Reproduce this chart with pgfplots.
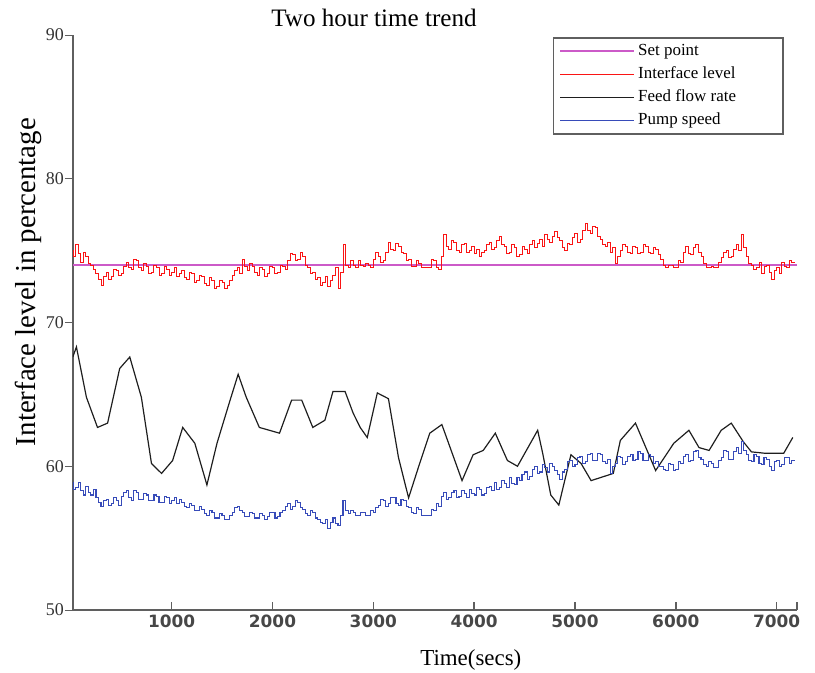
\documentclass[border=0pt]{standalone}
\usepackage{fontspec}
\setmainfont{Liberation Serif}
\setsansfont{DejaVu Sans}
\usepackage{pgfplots}
\pgfplotsset{compat=1.18}
\usetikzlibrary{calc}
\definecolor{setpt}{RGB}{204,90,200}
\definecolor{ifred}{RGB}{250,20,20}
\definecolor{feedblk}{RGB}{30,30,30}
\definecolor{pumpblue}{RGB}{55,75,185}
\definecolor{axgray}{RGB}{95,95,95}
\newcommand{\lent}[1]{\makebox[68bp][l]{#1}}

\begin{document}
\begin{tikzpicture}
\begin{axis}[
  scale only axis,
  width=362bp, height=287.5bp,
  xmin=20, xmax=7200, ymin=50, ymax=90,
  axis x line=bottom, axis y line=left,
  axis line style={axgray, line width=0.8pt, -},
  xtick={1000,2000,3000,4000,5000,6000,7000},
  extra x ticks={7200}, extra x tick labels={},
  ytick={50,60,70,80,90},
  x tick style={axgray, line width=0.7pt},
  y tick style={axgray, line width=0.5pt},
  xtick align=inside, ytick align=outside,
  major tick length=4bp,
  /pgf/number format/1000 sep={},
  /pgf/number format/assume math mode=true,
  x tick label style={font=\sffamily\bfseries\fontsize{8.5}{10}\selectfont, text=black!72, yshift=1bp},
  y tick label style={font=\fontsize{9}{10}\selectfont, text=black!80, xshift=3bp},
  legend style={at={(1,1)}, anchor=north east, xshift=-6.4bp, yshift=-1bp,
    draw=axgray, line width=0.8pt, fill=white,
    font=\fontsize{8.5}{9}\selectfont, inner xsep=3bp, inner ysep=1bp,
    row sep=0pt,
    nodes={inner sep=1.5bp, text height=6.5bp, text depth=2bp}},
  legend cell align=left,
  legend image code/.code={\draw[#1] (0bp,0bp) -- (37bp,0bp);},
]
\addplot[setpt, line width=0.9pt] coordinates {(20,74) (7200,74)};
\addlegendentry{\lent{Set point}}

\addplot[ifred, line width=0.5pt, const plot] coordinates {
(20,75.0) (25,74.6) (50,75.4) (75,74.8) (100,74.2) (125,74.9) (150,74.6) (175,74.1) (200,74.0) (225,73.7)
(250,73.4) (275,73.0) (300,72.6) (325,73.2) (350,73.5) (375,73.0) (400,73.2) (425,73.7) (450,73.6) (475,73.3)
(500,73.4) (525,73.9) (550,74.2) (575,73.8) (600,73.7) (625,74.4) (650,74.3) (675,73.8) (700,73.6) (725,74.1)
(750,73.9) (775,73.4) (800,73.5) (825,74.0) (850,73.8) (875,73.3) (900,73.4) (925,73.9) (950,73.7) (975,73.3)
(1000,73.5) (1025,73.8) (1050,73.2) (1075,73.4) (1100,73.6) (1125,73.1) (1150,73.0) (1175,73.5) (1200,73.4) (1225,72.8)
(1250,72.9) (1275,73.3) (1300,73.2) (1325,72.7) (1350,72.6) (1375,73.1) (1400,72.9) (1425,72.4) (1450,72.5) (1475,72.9)
(1500,72.8) (1525,72.4) (1550,72.6) (1575,72.9) (1600,73.3) (1625,73.6) (1650,73.8) (1675,73.4) (1700,74.4) (1725,73.9)
(1750,73.6) (1775,74.1) (1800,73.9) (1825,73.5) (1850,73.3) (1875,73.8) (1900,73.7) (1925,73.2) (1950,73.4) (1975,73.9)
(2000,73.8) (2025,73.4) (2050,73.5) (2075,74.0) (2100,73.9) (2125,73.7) (2150,74.3) (2175,74.8) (2200,74.7) (2225,74.3)
(2250,74.4) (2275,74.9) (2300,74.6) (2325,74.0) (2350,73.8) (2375,73.4) (2400,73.5) (2425,73.0) (2450,73.1) (2475,72.6)
(2500,72.8) (2525,73.2) (2550,72.5) (2575,72.9) (2600,73.3) (2625,73.8) (2650,72.4) (2675,73.5) (2700,75.4) (2725,74.0)
(2750,73.8) (2775,74.3) (2800,74.0) (2825,73.8) (2850,74.3) (2875,74.0) (2900,73.9) (2925,74.1) (2950,74.0) (2975,73.8)
(3000,74.4) (3025,74.9) (3050,74.6) (3075,74.2) (3100,74.3) (3125,74.9) (3150,75.6) (3175,75.1) (3200,75.0) (3225,75.5)
(3250,75.3) (3275,74.9) (3300,74.8) (3325,74.3) (3350,74.4) (3375,73.9) (3400,73.9) (3425,74.3) (3450,74.1) (3475,73.8)
(3500,73.8) (3525,73.8) (3550,73.8) (3575,74.4) (3600,74.3) (3625,73.8) (3650,73.7) (3675,74.6) (3700,76.1) (3725,75.3)
(3750,75.1) (3775,75.7) (3800,75.6) (3825,75.0) (3850,74.9) (3875,75.4) (3900,75.5) (3925,74.9) (3950,75.0) (3975,75.3)
(4000,74.8) (4025,75.1) (4050,74.6) (4075,74.9) (4100,75.0) (4125,75.4) (4150,75.6) (4175,75.1) (4200,75.2) (4225,75.7)
(4250,76.0) (4275,75.4) (4300,75.3) (4325,74.8) (4350,74.9) (4375,75.4) (4400,75.2) (4425,74.6) (4450,74.7) (4475,75.3)
(4500,75.1) (4525,74.8) (4550,75.4) (4575,75.7) (4600,75.2) (4625,75.5) (4650,75.8) (4675,75.3) (4700,76.1) (4725,75.8)
(4750,75.6) (4775,76.0) (4800,76.3) (4825,75.9) (4850,75.7) (4875,75.2) (4900,75.0) (4925,75.5) (4950,75.4) (4975,75.9)
(5000,76.2) (5025,75.6) (5050,75.8) (5075,76.4) (5100,76.9) (5125,76.4) (5150,76.2) (5175,76.7) (5200,76.6) (5225,76.0)
(5250,75.8) (5275,75.4) (5300,75.3) (5325,75.6) (5350,74.9) (5375,75.2) (5400,74.1) (5425,74.6) (5450,75.0) (5475,75.4)
(5500,75.3) (5525,74.9) (5550,74.8) (5575,75.3) (5600,75.2) (5625,74.8) (5650,74.9) (5675,75.4) (5700,75.3) (5725,74.9)
(5750,74.8) (5775,75.2) (5800,75.1) (5825,74.7) (5850,74.4) (5875,74.0) (5900,73.8) (5925,74.0) (5950,74.0) (5975,73.8)
(6000,73.8) (6025,74.3) (6050,74.2) (6075,74.9) (6100,75.3) (6125,74.8) (6150,74.7) (6175,75.2) (6200,75.4) (6225,74.9)
(6250,74.6) (6275,74.1) (6300,73.8) (6325,73.8) (6350,73.9) (6375,73.8) (6400,73.8) (6425,74.2) (6450,74.5) (6475,74.9)
(6500,75.0) (6525,74.5) (6550,74.6) (6575,75.1) (6600,75.4) (6625,75.0) (6650,76.1) (6675,75.2) (6700,74.6) (6725,74.1)
(6750,74.0) (6775,73.7) (6800,73.8) (6825,74.2) (6850,73.4) (6875,73.9) (6900,74.0) (6925,73.5) (6950,73.0) (6975,73.6)
(7000,73.8) (7025,73.4) (7050,74.2) (7075,73.9) (7100,73.8) (7125,74.3) (7150,74.2) (7180,74.2)};
\addlegendentry{\lent{Interface level}}

\addplot[feedblk, line width=0.6pt] coordinates {
(20,67.6) (56,68.3) (155,64.8) (265,62.7) (365,63.0) (485,66.8) (585,67.6) (700,64.8)
(800,60.2) (900,59.5) (1010,60.4) (1110,62.7) (1230,61.6) (1350,58.7) (1450,61.6) (1580,64.6)
(1660,66.4) (1740,64.8) (1870,62.7) (2070,62.3) (2190,64.6) (2290,64.6) (2400,62.7) (2520,63.2)
(2600,65.2) (2720,65.2) (2800,63.7) (2870,62.7) (2940,62.0) (3040,65.1) (3150,64.7) (3250,60.6)
(3350,57.8) (3460,60.2) (3560,62.3) (3680,62.9) (3880,59.0) (3990,60.8) (4090,61.1) (4210,62.3)
(4330,60.4) (4430,60.0) (4630,62.5) (4680,60.9) (4760,58.0) (4840,57.3) (4960,60.8) (5060,60.2)
(5160,59.0) (5380,59.5) (5450,61.8) (5600,63.0) (5800,59.7) (5980,61.6) (6130,62.5) (6230,61.3)
(6330,61.1) (6450,62.5) (6550,63.0) (6670,61.7) (6750,61.0) (6890,60.9) (7070,60.9) (7160,62.0)};
\addlegendentry{\lent{Feed flow rate}}

\addplot[pumpblue, line width=0.55pt, const plot] coordinates {
(20,58.9) (25,58.4) (50,58.5) (75,58.9) (100,58.3) (125,58.0) (150,58.6) (175,58.2) (200,58.0) (225,58.4)
(250,57.8) (275,57.5) (300,57.2) (325,57.6) (350,57.7) (375,57.3) (400,57.4) (425,57.8) (450,57.6) (475,57.3)
(500,57.9) (525,58.2) (550,58.3) (575,57.8) (600,57.6) (625,58.3) (650,58.2) (675,57.7) (700,57.7) (725,58.1)
(750,58.0) (775,57.6) (800,57.6) (825,58.0) (850,57.9) (875,57.5) (900,57.5) (925,57.9) (950,57.8) (975,57.4)
(1000,57.6) (1025,57.8) (1050,57.4) (1075,57.7) (1100,57.5) (1125,57.2) (1150,57.1) (1175,57.4) (1200,57.3) (1225,56.9)
(1250,56.9) (1275,57.2) (1300,57.0) (1325,56.7) (1350,56.6) (1375,56.9) (1400,56.8) (1425,56.4) (1450,56.4) (1475,56.7)
(1500,56.6) (1525,56.3) (1550,56.3) (1575,56.6) (1600,56.8) (1625,57.1) (1650,57.2) (1675,56.9) (1700,56.8) (1725,56.5)
(1750,56.5) (1775,56.8) (1800,56.7) (1825,56.4) (1850,56.4) (1875,56.7) (1900,56.6) (1925,56.3) (1950,56.5) (1975,56.8)
(2000,56.8) (2025,56.4) (2050,56.5) (2075,56.8) (2100,56.9) (2125,57.2) (2150,57.4) (2175,57.0) (2200,57.2) (2225,57.6)
(2250,57.5) (2275,57.1) (2300,57.0) (2325,56.7) (2350,56.6) (2375,56.9) (2400,56.8) (2425,56.4) (2450,56.3) (2475,56.1)
(2500,56.0) (2525,56.3) (2550,55.7) (2575,56.1) (2600,56.4) (2625,56.0) (2650,55.9) (2675,56.6) (2700,57.6) (2725,56.9)
(2750,56.7) (2775,56.9) (2800,56.8) (2825,56.6) (2850,56.6) (2875,56.8) (2900,56.8) (2925,56.6) (2950,56.6) (2975,56.9)
(3000,56.8) (3025,57.1) (3050,57.3) (3075,57.7) (3100,57.6) (3125,57.2) (3150,57.4) (3175,57.8) (3200,57.8) (3225,57.4)
(3250,57.3) (3275,57.7) (3300,57.6) (3325,57.2) (3350,57.1) (3375,56.8) (3400,56.7) (3425,57.1) (3450,57.0) (3475,56.6)
(3500,56.6) (3525,56.6) (3550,56.6) (3575,57.0) (3600,56.9) (3625,57.4) (3650,57.2) (3675,57.9) (3700,58.2) (3725,57.7)
(3750,57.8) (3775,58.2) (3800,58.3) (3825,57.8) (3850,57.9) (3875,58.3) (3900,58.1) (3925,57.8) (3950,58.4) (3975,58.1)
(4000,58.0) (4025,58.5) (4050,58.4) (4075,58.0) (4100,58.1) (4125,58.5) (4150,58.6) (4175,58.3) (4200,58.9) (4225,58.4)
(4250,58.5) (4275,59.0) (4300,58.8) (4325,58.5) (4350,59.2) (4375,58.8) (4400,58.7) (4425,59.2) (4450,59.0) (4475,59.4)
(4500,59.6) (4525,59.1) (4550,59.3) (4575,59.8) (4600,60.0) (4625,59.5) (4650,59.6) (4675,60.1) (4700,59.9) (4725,59.6)
(4750,60.2) (4775,60.0) (4800,59.7) (4825,59.4) (4850,59.1) (4875,59.6) (4900,59.8) (4925,60.3) (4950,60.4) (4975,60.0)
(5000,60.1) (5025,60.6) (5050,60.7) (5075,60.2) (5100,60.3) (5125,60.8) (5150,60.9) (5175,60.4) (5200,60.4) (5225,60.9)
(5250,60.8) (5275,60.3) (5300,60.2) (5325,60.5) (5350,59.5) (5375,60.0) (5400,60.2) (5425,60.7) (5450,60.6) (5475,60.1)
(5500,60.3) (5525,60.7) (5550,60.8) (5575,60.4) (5600,60.5) (5625,61.0) (5650,60.9) (5675,60.4) (5700,60.4) (5725,60.8)
(5750,60.7) (5775,60.2) (5800,60.3) (5825,60.0) (5850,60.0) (5875,59.8) (5900,59.7) (5925,60.2) (5950,60.1) (5975,59.7)
(6000,59.8) (6025,60.3) (6050,60.2) (6075,60.7) (6100,60.8) (6125,60.3) (6150,60.4) (6175,61.0) (6200,61.1) (6225,60.6)
(6250,60.5) (6275,60.1) (6300,60.0) (6325,60.3) (6350,60.2) (6375,59.9) (6400,59.9) (6425,60.4) (6450,60.6) (6475,61.1)
(6500,61.0) (6525,60.5) (6550,60.5) (6575,61.0) (6600,61.3) (6625,60.9) (6650,61.7) (6675,61.1) (6700,60.8) (6725,60.4)
(6750,60.3) (6775,60.8) (6800,60.7) (6825,60.2) (6850,60.1) (6875,60.6) (6900,60.5) (6925,60.0) (6950,59.7) (6975,60.3)
(7000,60.4) (7025,60.0) (7050,60.1) (7075,60.6) (7100,60.6) (7125,60.2) (7150,60.4) (7180,60.4)};
\addlegendentry{\lent{Pump speed}}
\end{axis}
% title and axis labels, placed like the reference
\node[font=\fontsize{12.6}{14}\selectfont] at ($(current axis.north west)+(150.6bp,8.5bp)$) {Two hour time trend};
\node[font=\fontsize{11.5}{13}\selectfont] at ($(current axis.south west)+(199bp,-25bp)$) {Time(secs)};
\node[font=\fontsize{14.5}{16}\selectfont, rotate=90] at ($(current axis.south west)+(-22.4bp,164bp)$) {Interface level in percentage};
\pgfresetboundingbox
\path[use as bounding box] ($(current axis.south west)+(-36.4bp,-31.5bp)$) rectangle ($(current axis.north east)+(9.1bp,17.5bp)$);
\end{tikzpicture}
\end{document}
